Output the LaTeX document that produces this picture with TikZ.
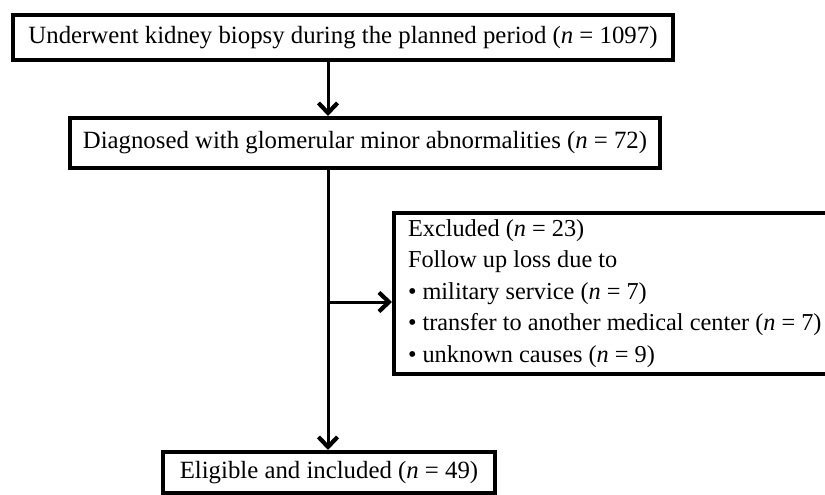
\documentclass[tikz,border=0pt]{standalone}
\usepackage{fontspec}
\setmainfont{Liberation Serif}
\usetikzlibrary{arrows.meta}
\begin{document}
\begin{tikzpicture}[x=1pt,y=-1pt,
  box/.style={draw=black, line width=4pt, inner sep=0pt, font=\fontsize{24.8}{31.5}\selectfont},
  arr/.style={line width=3pt, -{Straight Barb[length=10pt,width=19pt,line width=4.2pt]}},
  ln/.style={line width=3pt}]
\useasboundingbox (0,0) rectangle (825,495);
\clip (0,0) rectangle (825,495);
\fill[white] (0,0) rectangle (825,495);
\node[box, minimum width=660pt, minimum height=45pt] (b1) at (343,37.5)
  {Underwent kidney biopsy during the planned period (\textit{n} = 1097)};
\node[box, minimum width=590pt, minimum height=50pt] (b2) at (365,143)
  {Diagnosed with glomerular minor abnormalities (\textit{n} = 72)};
\node[box, anchor=north west, align=left, inner xsep=14pt, minimum height=161pt,
  font=\fontsize{24.3}{31.5}\selectfont] (b3) at (392,211)
  {Excluded (\textit{n} = 23)\\
   Follow up loss due to\\
   \textbullet{} military service (\textit{n} = 7)\\
   \textbullet{} transfer to another medical center (\textit{n} = 7)\\
   \textbullet{} unknown causes (\textit{n} = 9)};
\node[box, minimum width=332pt, minimum height=41pt] (b4) at (329,472.5)
  {Eligible and included (\textit{n} = 49)};
\coordinate (top) at (328,0);
\coordinate (br) at (328,302);
\draw[arr] (b1.south -| top) -- (b2.north -| top);
\draw[arr] (b2.south -| top) -- (b4.north -| top);
\draw[arr] (br) -- (br -| b3.west);
\end{tikzpicture}
\end{document}
